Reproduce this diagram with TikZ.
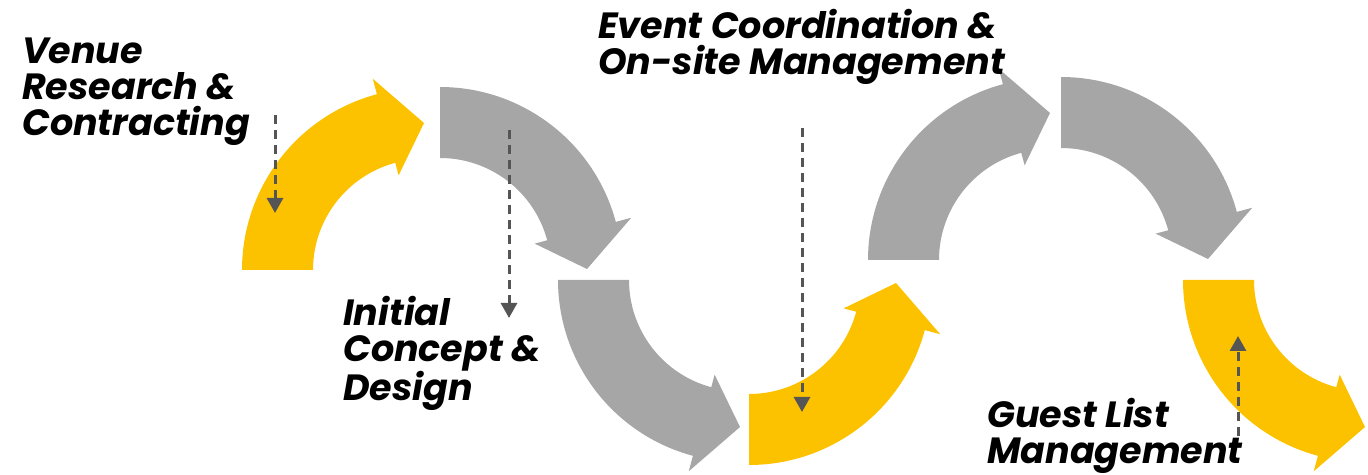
\documentclass[tikz,border=0pt]{standalone}
\usepackage{fontspec}
\setmainfont{Poppins}
\usetikzlibrary{arrows.meta}

\definecolor{gold}{HTML}{FCC200}
\definecolor{stone}{HTML}{A6A6A6}
\definecolor{ink}{HTML}{555555}

% bent block arrow: colour, centre x, centre y, start angle, turn (1 = ccw, -1 = cw)
\newcommand{\bentarrow}[5]{%
  \fill[#1, shift={(#2,#3)}]
    (#4:182) arc[start angle=#4, delta angle={75*(#5)}, radius=182]
    -- ({#4+75*(#5)}:198) -- ({#4+90*(#5)}:147) -- ({#4+75*(#5)}:98)
    -- ({#4+75*(#5)}:111) arc[start angle={#4+75*(#5)}, delta angle={-75*(#5)}, radius=111]
    -- cycle;
}

\begin{document}
\begin{tikzpicture}[x=1pt, y=1pt,
    stagename/.style={anchor=base west, inner sep=0pt, align=left,
      font=\fontsize{36.5}{36}\selectfont\bfseries\itshape},
    hint/.style={ink, line width=3pt, dash pattern=on 9pt off 6pt,
      -{Triangle[width=16pt,length=15pt]}}]
\useasboundingbox (0,0) rectangle (1368,474);

% the wave of bent arrows
\bentarrow{gold}{424}{204}{180}{-1}
\bentarrow{stone}{440}{205}{90}{-1}
\bentarrow{stone}{740}{194}{180}{1}
\bentarrow{gold}{749}{191}{270}{1}
\bentarrow{stone}{1050}{214}{180}{-1}
\bentarrow{stone}{1061}{215}{90}{-1}
\bentarrow{gold}{1365}{194}{180}{1}

% dashed pointers
\coordinate (v0) at (275,359);  \coordinate (v1) at (275,261);
\coordinate (i0) at (509,344);  \coordinate (i1) at (509,156);
\coordinate (e0) at (802,346);  \coordinate (e1) at (802,62);
\coordinate (g0) at (1238,38);  \coordinate (g1) at (1238,138);
\draw[hint] (v0) -- (v1);
\draw[hint] (i0) -- (i1);
\draw[hint] (e0) -- (e1);
\draw[hint] (g0) -- (g1);

% stage names (anchored on the last line)
\node[stagename] (venue) at (22,338) {Venue\\Research \&\\Contracting};
\node[stagename] (concept) at (343,73) {Initial\\Concept \&\\Design};
\node[stagename] (event) at (598,399) {Event Coordination \&\\On-site Management};
\node[stagename] (guest) at (987,11) {Guest List\\Management};
\end{tikzpicture}
\end{document}
